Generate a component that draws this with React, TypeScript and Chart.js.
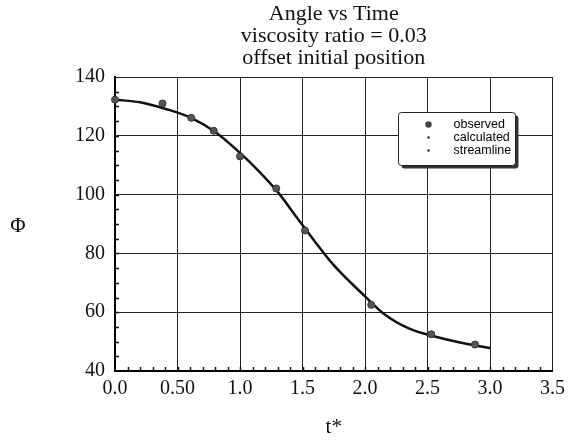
import React, { useEffect, useRef } from "react";
import { Chart, registerables } from "chart.js";

Chart.register(...registerables);

const titleLines = ["Angle vs Time", "viscosity ratio = 0.03", "offset initial position"];
const xTickValues = [0, 0.5, 1.0, 1.5, 2.0, 2.5, 3.0, 3.5];
const xTickLabels = ["0.0", "0.50", "1.0", "1.5", "2.0", "2.5", "3.0", "3.5"];
const yTickValues = [40, 60, 80, 100, 120, 140];
const xAxisTitle = "t*";
const yAxisTitle = "Φ";

const observedT = [0, 0.38, 0.61, 0.79, 1.0, 1.29, 1.52, 2.05, 2.53, 2.88];
const observedPhi = [132.3, 131.0, 126.1, 121.7, 113.0, 102.1, 87.8, 62.5, 52.5, 49.0];

const calculatedT = [0, 0.2, 0.4, 0.6, 0.8, 1.0, 1.15, 1.3, 1.45, 1.6, 1.75, 2.0, 2.15, 2.35, 2.55, 2.75, 3.0];
const calculatedPhi = [132.3, 131.4, 129.2, 126.3, 121.4, 114.2, 108.0, 101.0, 92.5, 84.0, 76.0, 65.4, 59.5, 54.5, 51.8, 49.8, 47.8];

const streamlineT: number[] = [];
const streamlinePhi: number[] = [];

const legendLabels = ["observed", "calculated", "streamline"];

const SERIF = "'Liberation Serif', 'Times New Roman', serif";

const decorPlugin = {
  id: "decor",
  afterDraw(chart: any) {
    const { ctx, chartArea, scales } = chart;
    const xs = scales.x;
    const ys = scales.y;
    ctx.save();
    // minor ticks (inward)
    ctx.strokeStyle = "#111";
    ctx.lineWidth = 1.5;
    for (let i = 1; i < 35; i++) {
      const v = i / 10;
      const px = Math.round(xs.getPixelForValue(v)) + 0.5;
      ctx.beginPath();
      ctx.moveTo(px, chartArea.bottom);
      ctx.lineTo(px, chartArea.bottom - 4);
      ctx.stroke();
    }
    for (let v = 45; v < 140; v += 5) {
      const py = Math.round(ys.getPixelForValue(v)) + 0.5;
      ctx.beginPath();
      ctx.moveTo(chartArea.left, py);
      ctx.lineTo(chartArea.left + 4, py);
      ctx.stroke();
    }
    // y axis title (upright)
    ctx.fillStyle = "#111";
    ctx.font = "21px " + SERIF;
    ctx.textAlign = "center";
    ctx.textBaseline = "middle";
    ctx.fillText(yAxisTitle, 18, (chartArea.top + chartArea.bottom) / 2 + 2);

    // legend box
    const bx = Math.round(xs.getPixelForValue(2.26)) + 0.5;
    const by = Math.round(ys.getPixelForValue(128.1)) + 0.5;
    const bw = 117;
    const bh = 53;
    ctx.fillStyle = "#333";
    ctx.beginPath();
    ctx.roundRect(bx + 3, by + 3, bw, bh, 3);
    ctx.fill();
    ctx.fillStyle = "#fff";
    ctx.strokeStyle = "#222";
    ctx.lineWidth = 1;
    ctx.beginPath();
    ctx.roundRect(bx, by, bw, bh, 3);
    ctx.fill();
    ctx.stroke();
    ctx.font = "12.5px 'Liberation Sans', Arial, sans-serif";
    ctx.textAlign = "left";
    ctx.textBaseline = "middle";
    chart.data.datasets.forEach((ds: any, i: number) => {
      const ly = by + 12 + i * 13;
      const mx = bx + 30;
      ctx.fillStyle = i === 0 ? "#444" : "#222";
      ctx.beginPath();
      ctx.arc(mx, ly, i === 0 ? 3.2 : 1.2, 0, Math.PI * 2);
      ctx.fill();
      ctx.fillStyle = "#000";
      ctx.fillText(legendLabels[i], bx + 55, ly);
    });
    ctx.restore();
  },
};

export default function App() {
  const ref = useRef<HTMLCanvasElement | null>(null);
  useEffect(() => {
    if (!ref.current) return;
    const chart = new Chart(ref.current, {
      type: "line",
      data: {
        datasets: [
          {
            label: legendLabels[0],
            data: observedT.map((t, i) => ({ x: t, y: observedPhi[i] })),
            showLine: false,
            pointRadius: 3.5,
            pointBackgroundColor: "#555",
            pointBorderColor: "#333",
            pointBorderWidth: 1,
            clip: false,
            order: 0,
          },
          {
            label: legendLabels[1],
            data: calculatedT.map((t, i) => ({ x: t, y: calculatedPhi[i] })),
            borderColor: "#111",
            borderWidth: 2.5,
            pointRadius: 0,
            cubicInterpolationMode: "monotone",
            fill: false,
            order: 1,
          },
          {
            label: legendLabels[2],
            data: streamlineT.map((t, i) => ({ x: t, y: streamlinePhi[i] })),
            borderColor: "#111",
            borderWidth: 1,
            pointRadius: 1,
            showLine: false,
            order: 2,
          },
        ],
      } as any,
      options: {
        animation: false,
        responsive: false,
        layout: { padding: { left: 0, right: 12, top: 0, bottom: 0 } },
        plugins: {
          legend: { display: false },
          tooltip: { enabled: false },
          title: {
            display: true,
            text: titleLines,
            fullSize: false,
            color: "#111",
            font: { family: SERIF, size: 22, weight: "normal", lineHeight: 1.0 },
            padding: { top: 3, bottom: 8 },
          },
        },
        scales: {
          x: {
            type: "linear",
            min: 0,
            max: 3.5,
            afterBuildTicks: (s: any) => {
              s.ticks = xTickValues.map((v) => ({ value: v }));
            },
            afterFit: (s: any) => {
              s.height = 74;
            },
            ticks: {
              color: "#111",
              font: { family: SERIF, size: 20 },
              padding: 6,
              maxRotation: 0,
              callback: (v: any) => {
                const i = xTickValues.findIndex((t) => Math.abs(t - v) < 1e-6);
                return i >= 0 ? xTickLabels[i] : "";
              },
            },
            grid: { color: "#222", lineWidth: 1, drawTicks: false },
            border: { display: true, color: "#000", width: 2 },
            title: {
              display: true,
              text: xAxisTitle,
              color: "#111",
              font: { family: SERIF, size: 21 },
              padding: { top: 0, bottom: 5 },
            },
          },
          y: {
            type: "linear",
            min: 40,
            max: 140,
            afterBuildTicks: (s: any) => {
              s.ticks = yTickValues.map((v) => ({ value: v }));
            },
            afterFit: (s: any) => {
              s.width = 115;
            },
            ticks: {
              color: "#111",
              font: { family: SERIF, size: 20 },
              padding: 10,
            },
            grid: { color: "#222", lineWidth: 1, drawTicks: false },
            border: { display: true, color: "#000", width: 2 },
          },
        },
      } as any,
      plugins: [decorPlugin],
    });
    return () => chart.destroy();
  }, []);
  return (
    <div style={{ position: "absolute", left: 0, top: 0, width: 571, height: 445, background: "#fff" }}>
      <canvas ref={ref} width={571} height={445} style={{ display: "block" }} />
    </div>
  );
}
